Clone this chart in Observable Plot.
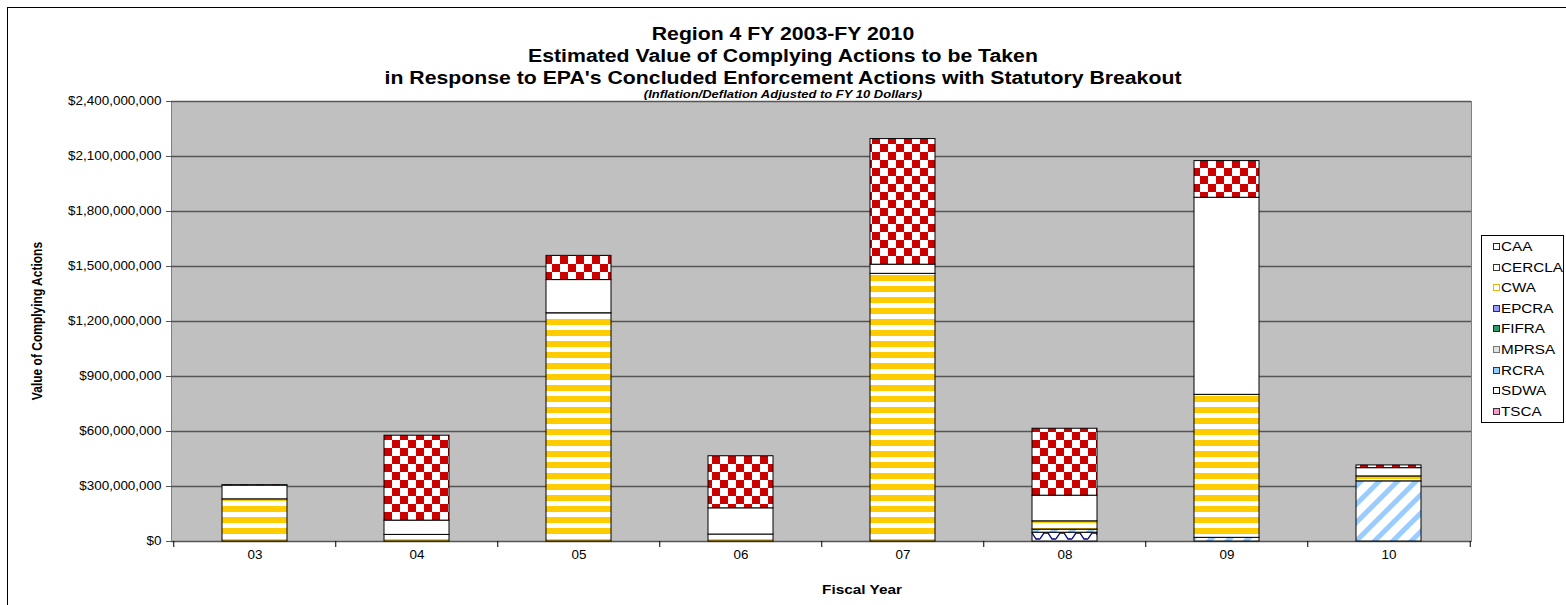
<!DOCTYPE html>
<html><head><meta charset="utf-8">
<script src="https://cdn.jsdelivr.net/npm/d3@7"></script>
<script src="https://cdn.jsdelivr.net/npm/@observablehq/plot@0.6"></script>
<style>
body{margin:0;background:#fff;font-family:"Liberation Sans",Arial,sans-serif;}
#wrap{position:relative;width:1566px;height:605px;overflow:hidden;background:#fff;}
#border{position:absolute;left:7px;top:7px;width:1570px;height:610px;border:1px solid #000;box-sizing:border-box;}
#chart{position:absolute;left:0;top:0;}
.t{position:absolute;left:0;width:1566px;text-align:center;font-weight:bold;color:#000;white-space:nowrap;transform-origin:783px 50%;}
.title{font-size:18px;line-height:22px;transform:scaleX(1.18);}
.sub{font-size:11px;line-height:13px;font-style:italic;transform:scaleX(1.18);}
#ylab{position:absolute;left:37px;top:321px;transform:translate(-50%,-50%) rotate(-90deg) scaleY(1.2);font-size:12px;font-weight:bold;white-space:nowrap;}
#xlab{position:absolute;left:862px;top:590px;transform:translate(-50%,-50%) scaleX(1.28);font-size:12px;font-weight:bold;white-space:nowrap;}
#legend{position:absolute;left:1481px;top:235px;width:83px;height:188px;border:1px solid #000;box-sizing:border-box;background:#fff;}
.li{position:absolute;left:11px;font-size:12px;line-height:14px;white-space:nowrap;}
.sw{display:inline-block;width:5px;height:5px;border:1px solid #000;margin-right:1px;vertical-align:1px;}
.lt{display:inline-block;transform:scaleX(1.27);transform-origin:0 50%;}
</style></head><body>
<div id="wrap">
<div id="border"></div>
<div id="chart"></div>
<div class="t title" style="top:23px">Region 4 FY 2003-FY 2010</div>
<div class="t title" style="top:45px">Estimated Value of Complying Actions to be Taken</div>
<div class="t title" style="top:67px">in Response to EPA's Concluded Enforcement Actions with Statutory Breakout</div>
<div class="t sub" style="top:88px">(Inflation/Deflation Adjusted to FY 10 Dollars)</div>
<div id="ylab">Value of Complying Actions</div>
<div id="xlab">Fiscal Year</div>
<div id="legend"></div>
</div>
<script>
// Fiscal years (categories)
const years = ["03", "04", "05", "06", "07", "08", "09", "10"];
// Statutes (series), legend order
const series = ["CAA", "CERCLA", "CWA", "EPCRA", "FIFRA", "MPRSA", "RCRA", "SDWA", "TSCA"];
// Values in dollars per statute, per fiscal year
const CAA    = [2e6, 463e6, 132e6, 284e6, 685e6, 365e6, 200e6, 15e6];
const CERCLA = [75e6, 78e6, 181e6, 143e6, 50e6, 140e6, 1075e6, 45e6];
const CWA    = [230e6, 36e6, 1245e6, 38e6, 1460e6, 45e6, 780e6, 27e6];
const EPCRA  = [0, 0, 0, 0, 0, 0, 0, 0];
const FIFRA  = [0, 0, 0, 0, 0, 0, 0, 0];
const MPRSA  = [0, 0, 0, 0, 0, 0, 0, 0];
const RCRA   = [0, 0, 0, 0, 0, 17e6, 20e6, 328e6];
const SDWA   = [0, 0, 0, 0, 0, 48e6, 0, 0];
const TSCA   = [0, 0, 0, 0, 0, 0, 0, 0];
// Y axis tick values
const yTicks = [0, 3e8, 6e8, 9e8, 12e8, 15e8, 18e8, 21e8, 24e8];

const valuesBySeries = {CAA, CERCLA, CWA, EPCRA, FIFRA, MPRSA, RCRA, SDWA, TSCA};
const fills = {
  CAA: "url(#pCAA)", CERCLA: "#ffffff", CWA: "url(#pCWA)", EPCRA: "#9999ff",
  FIFRA: "#339966", MPRSA: "#e3e3e3", RCRA: "url(#pRCRA)", SDWA: "url(#pSDWA)", TSCA: "#ff99cc"
};
const swatch = {
  CAA: ["#fff", "#800000"], CERCLA: ["#fff", "#333"], CWA: ["#fff", "#e6b800"], EPCRA: ["#9999ff", "#333"],
  FIFRA: ["#339966", "#222"], MPRSA: ["#e3e3e3", "#777"], RCRA: ["#99ccff", "#333"], SDWA: ["#fff", "#000080"], TSCA: ["#ff99cc", "#333"]
};

// table: bottom of stack first (TSCA) up to CAA
const data = [];
for (const s of [...series].reverse()) {
  valuesBySeries[s].forEach((v, i) => { if (v > 0) data.push({year: years[i], series: s, value: v}); });
}

const W = 1566, H = 605, mL = 171, mR = 95, mT = 101, mB = 64;
const step = (W - mL - mR) / years.length;

const svg = Plot.plot({
  width: W, height: H,
  marginLeft: mL, marginRight: mR, marginTop: mT, marginBottom: mB,
  style: {fontFamily: "Liberation Sans, Arial, sans-serif", fontSize: "12px", color: "#000", background: "transparent", overflow: "visible"},
  x: {domain: years, paddingInner: 0.6, paddingOuter: 0.3, label: null},
  y: {domain: [0, 2.4e9], label: null},
  color: {domain: series, range: series.map(s => fills[s])},
  marks: [
    Plot.frame({fill: "#c0c0c0", stroke: "#808080"}),
    Plot.ruleY(yTicks, {stroke: "#555", strokeWidth: 1.5}),
    Plot.barY(data, {x: "year", y: "value", fill: "series", stroke: "#000", strokeWidth: 1}),
    Plot.axisY(yTicks, {tickSize: 5, tickPadding: 5, tickFormat: d3.format("$,.0f"), label: null, stroke: "#555", fontSize: 12}),
    Plot.axisX({tickSize: 0, tickPadding: 9, label: null, fontSize: 12}),
    Plot.axisX(years, {tickSize: 6, tickFormat: () => "", label: null, dx: -step / 2, stroke: "#000"}),
    Plot.axisX(["10"], {tickSize: 6, tickFormat: () => "", label: null, dx: step / 2, stroke: "#000"})
  ]
});

// horizontally widen axis text to match the reference's stretched lettering
d3.select(svg).selectAll("text").each(function() {
  const t = d3.select(this);
  const tr = t.attr("transform");
  if (tr) t.attr("transform", tr + " scale(1.12,1)");
  else {
    const x = +t.attr("x") || 0, y = +t.attr("y") || 0;
    t.attr("x", null).attr("y", null).attr("transform", `translate(${x},${y}) scale(1.12,1)`);
  }
});

d3.select(svg).insert("defs", ":first-child").html(`
  <pattern id="pCAA" patternUnits="userSpaceOnUse" width="16" height="16">
    <rect width="16" height="16" fill="#fff"/>
    <rect width="8" height="8" fill="#cc0000"/>
    <rect x="8" y="8" width="8" height="8" fill="#cc0000"/>
  </pattern>
  <pattern id="pCWA" patternUnits="userSpaceOnUse" width="11" height="11">
    <rect width="11" height="11" fill="#fff"/>
    <rect width="11" height="6" fill="#ffcc00"/>
  </pattern>
  <pattern id="pRCRA" patternUnits="userSpaceOnUse" width="13" height="13" patternTransform="rotate(45)">
    <rect width="13" height="13" fill="#fff"/>
    <rect width="5" height="13" fill="#99ccff"/>
  </pattern>
  <pattern id="pSDWA" patternUnits="userSpaceOnUse" width="16" height="9">
    <rect width="16" height="9" fill="#fff"/>
    <path d="M0,8 L4,2 L8,2 L12,8 L16,8" fill="none" stroke="#000080" stroke-width="1.3"/>
  </pattern>
`);

document.getElementById("chart").appendChild(svg);

const legend = d3.select("#legend");
series.forEach((s, i) => {
  const item = legend.append("div").attr("class", "li").style("top", (4 + i * 20.6) + "px");
  item.append("span").attr("class", "sw").style("background", swatch[s][0]).style("border-color", swatch[s][1]);
  item.append("span").attr("class", "lt").text(s);
});
</script>
</body></html>
